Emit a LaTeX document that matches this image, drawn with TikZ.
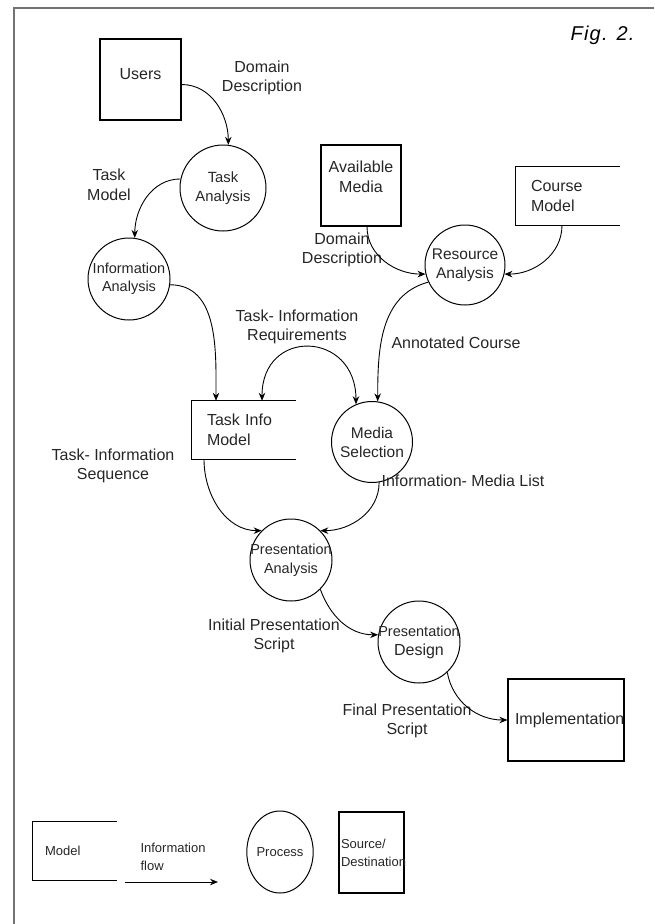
\documentclass[tikz,border=0pt]{standalone}
\usepackage{fontspec}
\setmainfont{Liberation Sans}
\newfontfamily\figfont[LetterSpace=6]{Liberation Sans}
\usepackage{tikz}
\usetikzlibrary{shapes.geometric, arrows.meta}

\begin{document}
\begin{tikzpicture}[
  x=1pt, y=1pt,
  font=\fontsize{16}{19.5}\selectfont,
  >={Stealth[length=8pt,width=6.5pt]},
  every node/.style={text=black!85},
  process/.style={
    circle, draw, line width=1pt, minimum size=82pt,
    inner sep=-6pt, align=center, font=\fontsize{15.5}{19}\selectfont
  },
  source/.style={
    rectangle, draw, line width=1.2pt, minimum width=81pt,
    minimum height=81pt, inner sep=0pt, align=center
  },
  store/.style={
    rectangle, minimum width=104pt, minimum height=58pt,
    inner xsep=15pt, inner ysep=0pt, text width=74pt, align=left
  },
  flow/.style={->, line width=0.9pt},
  flowlabel/.style={align=center},
  legend/.style={font=\fontsize{13}{18}\selectfont}
]
\useasboundingbox (0,0) rectangle (654,-924);

% Frame
\coordinate (frameright) at (654,-8);
\coordinate (framecorner) at (14,-8);
\coordinate (framebottom) at (14,-924);
\draw[black!55, line width=1.5pt] (frameright) -- (framecorner) -- (framebottom);
\node[anchor=east, font=\figfont\fontsize{20}{24}\selectfont\itshape, text=black] (figlabel) at (638,-35) {Fig. 2.};

% Sources and destinations
\node[source, text depth=11pt] (users) at (140.5,-79.5) {Users};
\node[source, minimum width=80pt, text depth=18pt] (avmedia) at (361,-185.5) {Available\\Media};
\node[source, minimum width=116pt, minimum height=82pt, text width=102pt, inner xsep=7pt, align=left] (impl) at (566,-720) {Implementation};

% Models
\node[store] (taskinfo) at (244,-430) {Task Info\\Model};
\node[store] (course) at (568,-196) {Course\\Model};
\draw[line width=1pt] (taskinfo.north east) -- (taskinfo.north west) -- (taskinfo.south west) -- (taskinfo.south east);
\draw[line width=1pt] (course.north east) -- (course.north west) -- (course.south west) -- (course.south east);

% Processes
\node[process, minimum size=86pt, font=\fontsize{14.8}{19.5}\selectfont] (taskan) at (223,-188) {Task\\Analysis};
\node[process, font=\fontsize{14.5}{18}\selectfont] (infoan) at (129,-279) {Information\\Analysis};
\node[process, minimum size=80pt] (resan) at (465,-265) {Resource\\Analysis};
\node[process, minimum size=81pt] (mediasel) at (372,-442) {Media\\Selection};
\node[process, font=\fontsize{14.5}{19}\selectfont] (presan) at (291,-560) {Presentation\\Analysis};
\node[process, font=\fontsize{14.5}{19}\selectfont] (presdes) at (419,-642) {Presentation\\\fontsize{16}{19}\selectfont Design};

% Flow labels
\node[flowlabel] (lbldomaina) at (262,-78) {Domain\\Description};
\node[flowlabel] (lbltaskmodel) at (109,-185) {Task\\Model};
\node[flowlabel] (lbldomainb) at (342,-250) {Domain\\Description};
\node[flowlabel] (lblreq) at (297,-327) {Task- Information\\Requirements};
\node[flowlabel] (lblannot) at (456,-343) {Annotated Course};
\node[flowlabel] (lblseq) at (113,-466) {Task- Information\\Sequence};
\node[flowlabel] (lblmedia) at (463,-481) {Information- Media List};
\node[flowlabel] (lblinit) at (274,-636) {Initial Presentation\\Script};
\node[flowlabel] (lblfinal) at (407,-721) {Final Presentation\\Script};

% Flows
\draw[flow] ([yshift=-5pt]users.east) to[out=0,in=90] (taskan.83);
\draw[flow] (taskan.168) to[out=180,in=90] (infoan.82);
\draw[flow] (infoan.-8) to[out=0,in=90] ([xshift=-28pt]taskinfo.north);
\draw[flow,<->] ([xshift=18pt]taskinfo.north) to[out=90,in=90,looseness=2] (mediasel.113);
\draw[flow] ([xshift=6pt]avmedia.south) to[out=-90,in=180] (resan.193);
\draw[flow] ([xshift=-6pt]course.south) to[out=-90,in=0] (resan.-13);
\draw[flow] (resan.205) to[out=195,in=90] (mediasel.82);
\draw[flow] ([xshift=-40pt]taskinfo.south) to[out=-90,in=180] (presan.135);
\draw[flow] (mediasel.-80) to[out=-90,in=0] (presan.45);
\draw[flow] (presan.-45) to[out=-70,in=180] (presdes.170);
\draw[flow] (presdes.-47) to[out=-80,in=180] (impl.west);

% Legend
\node[store, legend, minimum width=84pt, inner xsep=12pt, text width=60pt] (legmodel) at (75,-851) {Model};
\draw[line width=1pt] (legmodel.north east) -- (legmodel.north west) -- (legmodel.south west) -- (legmodel.south east);
\node[legend, anchor=west, align=left] (legflowtext) at (137,-857) {Information\\flow};
\coordinate (legflowa) at (125,-882);
\coordinate (legflowb) at (218,-882);
\draw[flow] (legflowa) -- (legflowb);
\node[ellipse, draw, line width=1pt, legend, minimum width=66pt, minimum height=82pt, inner sep=0pt] (legprocess) at (280,-852) {Process};
\node[source, legend, minimum width=65pt, text width=61pt, inner xsep=2pt, align=left] (legsource) at (371.5,-852.5) {Source/\\Destination};

\end{tikzpicture}
\end{document}
